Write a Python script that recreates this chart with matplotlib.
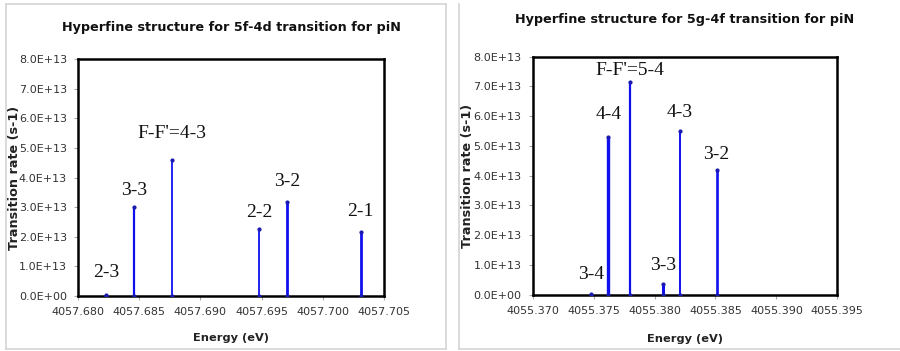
import matplotlib
matplotlib.use("Agg")
import matplotlib.pyplot as plt
from matplotlib.lines import Line2D

# ---- data: 5f-4d panel ----
energy_5f4d = [4057.6823, 4057.6846, 4057.6877, 4057.6948, 4057.6971, 4057.7031]
rate_5f4d = [0.03e13, 3.00e13, 4.58e13, 2.26e13, 3.18e13, 2.15e13]
labels_5f4d = ["2-3", "3-3", "F-F'=4-3", "2-2", "3-2", "2-1"]

# ---- data: 5g-4f panel ----
energy_5g4f = [4055.3748, 4055.3762, 4055.3780, 4055.3807, 4055.3821, 4055.3851]
rate_5g4f = [0.02e13, 5.29e13, 7.16e13, 0.36e13, 5.49e13, 4.18e13]
labels_5g4f = ["3-4", "4-4", "F-F'=5-4", "3-3", "4-3", "3-2"]

xticks_5f4d = [4057.680, 4057.685, 4057.690, 4057.695, 4057.700, 4057.705]
xticks_5g4f = [4055.370, 4055.375, 4055.380, 4055.385, 4055.390, 4055.395]
yticks = [0, 1e13, 2e13, 3e13, 4e13, 5e13, 6e13, 7e13, 8e13]

# styling (label centre offsets in pixels above line tops)
dy_5f4d = [23, 17, 27, 17, 20, 21]
dy_5g4f = [20, 23, 11, 18, 19, 16]
lw_5f4d = [2.0, 1.6, 1.3, 1.3, 2.0, 2.0]
lw_5g4f = [1.5, 2.4, 1.6, 2.2, 1.4, 1.9]

W, H = 900, 351
fig = plt.figure(figsize=(W / 100, H / 100), dpi=100)
fig.patch.set_facecolor("white")

def px(x0, y0, x1, y1):
    return [x0 / W, (H - y1) / H, (x1 - x0) / W, (y1 - y0) / H]

# panel frames
frame = dict(color="#d4d4d4", lw=1.2, transform=fig.transFigure)
for (xa, ya, xb, yb) in [(6, 4, 6, 349), (6, 4, 446, 4), (446, 4, 446, 349), (6, 349, 446, 349),
                         (459, 4, 459, 349), (459, 349, 900, 349)]:
    fig.add_artist(Line2D([xa / W, xb / W], [(H - ya) / H, (H - yb) / H], **frame))

BLUE = "#1010ee"

def panel(rect, energies, rates, labels, dys, lws, xticks, title, title_y, ylab_x, xlab_y):
    ax = fig.add_axes(px(*rect))
    for e, r, lw in zip(energies, rates, lws):
        ax.vlines(e, 0, r, color=BLUE, lw=lw, zorder=3)
        ax.plot([e, e], [0, r], ls="none", marker="o", ms=2.0, color="#1a1ab0", zorder=4)
    for e, r, lab, d in zip(energies, rates, labels, dys):
        ax.annotate(lab, (e, r), xytext=(0, d * 0.72), textcoords="offset points",
                    ha="center", va="center", family="Liberation Serif", fontsize=14,
                    color="#111111")
    ax.set_xlim(xticks[0], xticks[-1])
    ax.set_ylim(0, 8e13)
    ax.set_xticks(xticks)
    ax.set_xticklabels([f"{t:.3f}" for t in xticks])
    ax.set_yticks(yticks)
    ax.set_yticklabels([f"{t / 1e13:.1f}E+13" if t > 0 else "0.0E+00" for t in yticks])
    ax.tick_params(axis="both", direction="out", length=3, width=0.8, color="#aaaaaa",
                   labelsize=8, labelcolor="#333333", pad=5)
    for s in ax.spines.values():
        s.set_linewidth(1.8)
        s.set_color("black")
    x0, y0, x1, y1 = rect
    fig.text((x0 + x1) / 2 / W, (H - title_y) / H, title, ha="center", va="center",
             fontsize=9.2, fontweight="bold", color="#111111")
    fig.text(ylab_x / W, (H - (y0 + y1) / 2) / H, "Transition rate (s-1)", rotation=90,
             ha="center", va="center", fontsize=9.2, fontweight="bold", color="#222222")
    fig.text((x0 + x1) / 2 / W, (H - xlab_y) / H, "Energy (eV)", ha="center", va="center",
             fontsize=8.2, fontweight="bold", color="#222222")
    return ax

panel((78, 59, 384, 296), energy_5f4d, rate_5f4d, labels_5f4d, dy_5f4d, lw_5f4d,
      xticks_5f4d, "Hyperfine structure for 5f-4d transition for piN", 27, 15, 338)
panel((532.7, 56.7, 837.3, 294.7), energy_5g4f, rate_5g4f, labels_5g4f, dy_5g4f, lw_5g4f,
      xticks_5g4f, "Hyperfine structure for 5g-4f transition for piN", 19, 468, 339)

fig.savefig("out.png", dpi=100, facecolor="white")
